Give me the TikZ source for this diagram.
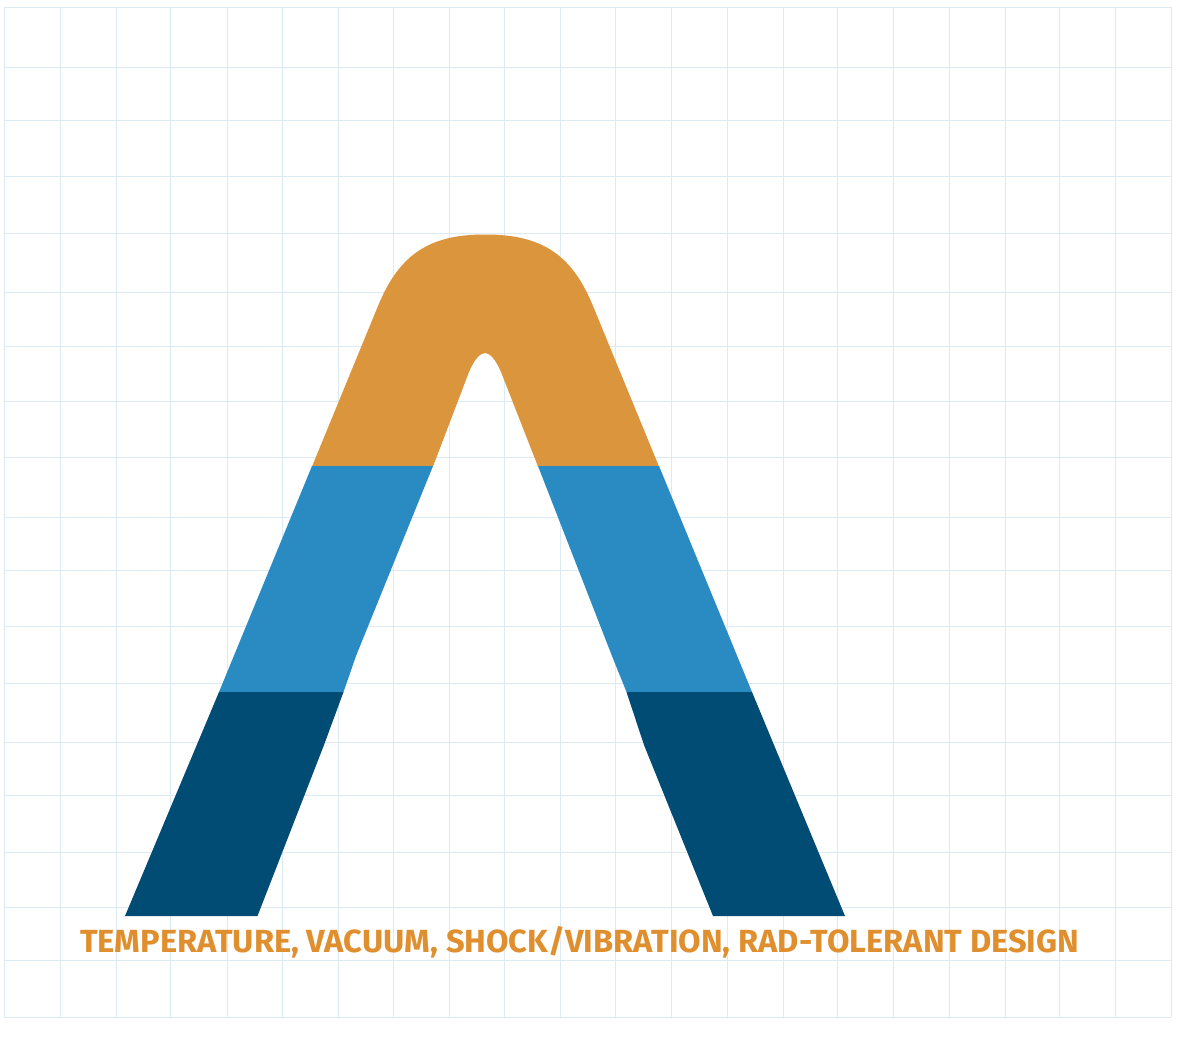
\documentclass[tikz,border=0pt]{standalone}
\usepackage{graphicx}
\usepackage{fontspec}
\setmainfont{Fira Sans}
\definecolor{gridc}{HTML}{DCEAF4}
\definecolor{orangec}{HTML}{DB963D}
\definecolor{bluec}{HTML}{2A8BC2}
\definecolor{darkc}{HTML}{004C75}
\definecolor{textc}{HTML}{E08F2E}
\tikzset{gridline/.style={draw=gridc,line width=1pt},
  band/.style={draw=none},
  caption/.style={inner sep=0pt,anchor=base west,text=textc,font=\fontsize{32}{32}\selectfont\bfseries}}
\begin{document}
\begin{tikzpicture}[x=1pt,y=-1pt]
\useasboundingbox (0,0) rectangle (1200,1047);
\fill[white] (0,0) rectangle (1200,1047);
\foreach \gx in {4,60,116,170,227,282,338,393,449,504,560,615,671,727,783,837,893,949,1005,1059,1115,1171}
  \draw[gridline] (\gx,7) -- (\gx,1017);
\foreach \gy in {7,67,120,176,233,292,346,401,457,517,570,626,683,742,795,852,907,960,1017}
  \draw[gridline] (4,\gy) -- (1171,\gy);
% orange top
\fill[orangec,band] (312,466.5) -- (378,306) .. controls (400,252) and (432,234.5) .. (485,234.5)
  .. controls (539,234.5) and (571,252) .. (593,306) -- (659,466.5) -- (538,466.5) -- (501,372)
  .. controls (496,360) and (490,353) .. (485,353) .. controls (480,353) and (474,360) .. (469,372)
  -- (433,466.5) -- cycle;
% blue bands
\fill[bluec,band] (312,466) -- (433,466) -- (356,656) -- (343.5,692) -- (219,692) -- cycle;
\fill[bluec,band] (538,466) -- (659,466) -- (752,692) -- (626.5,692) -- (612,656) -- cycle;
% dark bands
\fill[darkc,band] (219,692) -- (343.5,692) -- (324,745) -- (257.5,916) -- (125,916) -- cycle;
\fill[darkc,band] (626.5,692) -- (752,692) -- (845,916) -- (713,916) -- (644,745) -- cycle;
\node[caption] (cap) at (80,952) {\scalebox{1.02}[1]{TEMPERATURE, VACUUM, SHOCK/VIBRATION, RAD-TOLERANT DESIGN}};
\end{tikzpicture}
\end{document}
